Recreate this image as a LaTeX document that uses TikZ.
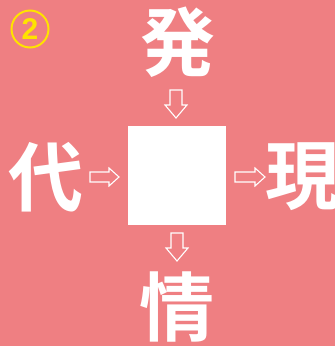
\documentclass[tikz,border=0pt]{standalone}
\usepackage{fontspec}
\newfontfamily\jpfont{Noto Sans CJK JP}[BoldFont={* Bold}]
\setsansfont{Liberation Sans}
\definecolor{bgpink}{RGB}{239,127,130}
\definecolor{ylw}{RGB}{255,226,0}
\begin{document}
\begin{tikzpicture}[x=1pt,y=-1pt,
  kanji/.style={text=white,font=\jpfont\bfseries\fontsize{75}{75}\selectfont,inner sep=0pt},
  blockarrow/.style={draw=white,line width=1.1pt,line join=miter}]
\useasboundingbox (0,0) rectangle (335,346);
\fill[bgpink] (0,0) rectangle (335,346);
% number badge
\node[circle,draw=ylw,line width=2pt,minimum size=37pt,inner sep=0pt,
  text=ylw,font=\sffamily\bfseries\fontsize{30}{30}\selectfont] (num) at (30,29) {2};
% centre square
\node[fill=white,minimum width=98pt,minimum height=99pt,inner sep=0pt] (sq) at (177,175.5) {};
% characters
\node[kanji] (top) at (178,42) {発};
\node[kanji] (left) at (46,177) {代};
\node[kanji] (right) at (303,177) {現};
\node[kanji] (bottom) at (177,307) {情};
% block arrows
\coordinate (d1) at (176,90);
\draw[blockarrow] (d1) ++(-6,0) -- ++(0,15) -- ++(-5,0) -- ++(11,13) -- ++(11,-13) -- ++(-5,0) -- ++(0,-15) -- cycle;
\coordinate (d2) at (177,233);
\draw[blockarrow] (d2) ++(-6,0) -- ++(0,15) -- ++(-5,0) -- ++(11,13) -- ++(11,-13) -- ++(-5,0) -- ++(0,-15) -- cycle;
\coordinate (r1) at (90,177);
\draw[blockarrow] (r1) ++(0,-5) -- ++(19,0) -- ++(0,-4) -- ++(10,9) -- ++(-10,9) -- ++(0,-4) -- ++(-19,0) -- cycle;
\coordinate (r2) at (235,177);
\draw[blockarrow] (r2) ++(0,-5) -- ++(20,0) -- ++(0,-4) -- ++(10,9) -- ++(-10,9) -- ++(0,-4) -- ++(-20,0) -- cycle;
\end{tikzpicture}
\end{document}
